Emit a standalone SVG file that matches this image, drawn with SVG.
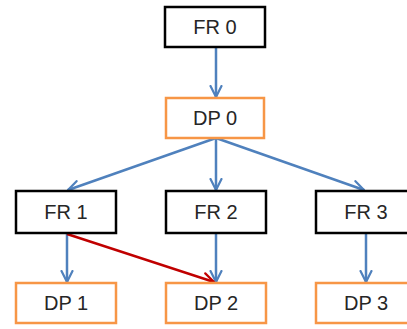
<svg xmlns="http://www.w3.org/2000/svg" width="407" height="329" viewBox="0 0 407 329">
<defs>
<style>
.fr{fill:#fff;stroke:#000;stroke-width:2.5}
.dp{fill:#fff;stroke:#f79646;stroke-width:2.5}
.t{font-family:"Liberation Sans",Arial,sans-serif;font-size:20px;fill:#262626;text-anchor:middle}
.b{stroke:#4f81bd;stroke-width:2.5;fill:none;marker-end:url(#ab)}
.r{stroke:#c00000;stroke-width:2.5;fill:none;marker-end:url(#ar)}
</style>
<marker id="ab" viewBox="0 0 10 10" refX="9" refY="5" markerWidth="5.5" markerHeight="5.5" orient="auto" markerUnits="strokeWidth">
<polyline points="1,1 9,5 1,9" fill="none" stroke="#4f81bd" stroke-width="1.6" stroke-linecap="round" stroke-linejoin="round"/>
</marker>
<marker id="ar" viewBox="0 0 10 10" refX="9" refY="5" markerWidth="5.5" markerHeight="5.5" orient="auto" markerUnits="strokeWidth">
<polyline points="1,1 9,5 1,9" fill="none" stroke="#c00000" stroke-width="1.6" stroke-linecap="round" stroke-linejoin="round"/>
</marker>
</defs>
<g id="connectors">
<line class="b" x1="216" y1="47" x2="216" y2="97"/>
<line class="b" x1="216" y1="138" x2="68" y2="190"/>
<line class="b" x1="216" y1="138" x2="216" y2="190"/>
<line class="b" x1="216" y1="138" x2="364" y2="190"/>
<line class="b" x1="67" y1="234" x2="67" y2="282"/>
<line class="b" x1="216" y1="234" x2="216" y2="282"/>
<line class="b" x1="366" y1="234" x2="366" y2="282"/>
<line class="r" x1="67" y1="234" x2="214" y2="282"/>
</g>
<g id="FR0"><rect class="fr" x="165" y="7" width="100" height="40"/><text class="t" x="215" y="34">FR 0</text></g>
<g id="DP0"><rect class="dp" x="166" y="98" width="98" height="40"/><text class="t" x="215" y="125">DP 0</text></g>
<g id="FR1"><rect class="fr" x="16" y="191" width="100" height="42"/><text class="t" x="66" y="219">FR 1</text></g>
<g id="FR2"><rect class="fr" x="166" y="191" width="100" height="42"/><text class="t" x="216" y="219">FR 2</text></g>
<g id="FR3"><rect class="fr" x="316" y="191" width="100" height="42"/><text class="t" x="366" y="219">FR 3</text></g>
<g id="DP1"><rect class="dp" x="16" y="283" width="100" height="40"/><text class="t" x="66" y="310">DP 1</text></g>
<g id="DP2"><rect class="dp" x="166" y="283" width="100" height="40"/><text class="t" x="216" y="310">DP 2</text></g>
<g id="DP3"><rect class="dp" x="316" y="283" width="100" height="40"/><text class="t" x="366" y="310">DP 3</text></g>
</svg>
